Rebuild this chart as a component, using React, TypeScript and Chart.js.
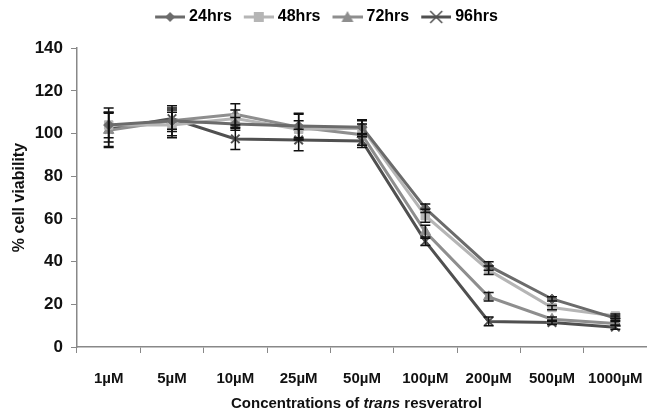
import React, { useEffect, useRef } from "react";
import { Chart, registerables } from "chart.js";

Chart.register(...registerables);

const categories = ["1µM", "5µM", "10µM", "25µM", "50µM", "100µM", "200µM", "500µM", "1000µM"];
const seriesNames = ["24hrs", "48hrs", "72hrs", "96hrs"];
const v24 = [104, 106, 104.5, 103.5, 103, 65, 38, 22.5, 13.5];
const v48 = [104, 104, 107, 102, 102.5, 61.5, 36, 18.5, 14.5];
const v72 = [101.5, 106, 109, 103, 99.5, 54, 23.5, 13, 11];
const v96 = [102, 107, 97.5, 97, 96.5, 49.5, 12, 11.5, 9.3];
const e24 = [6, 5, 3, 6, 3, 2, 2, 1, 1];
const e48 = [8, 6, 4, 4, 4, 3, 2, 1, 1];
const e72 = [8, 7, 5, 6, 5, 3, 2, 1, 1];
const e96 = [8, 5, 5, 5, 3, 2, 2, 1, 1];
const yTicks = [0, 20, 40, 60, 80, 100, 120, 140];

const colors = ["#6b6b6b", "#b5b5b5", "#8e8e8e", "#505050"];
const styles = ["rectRot", "rect", "triangle", "crossRot"];
const radii = [5, 6, 6, 6];
const FONT = "'Liberation Sans', Arial, sans-serif";

function legendIcon(color: string, style: string, r: number) {
  const c = document.createElement("canvas");
  c.width = 40;
  c.height = 14;
  const ctx = c.getContext("2d")!;
  ctx.strokeStyle = color;
  ctx.fillStyle = color;
  ctx.lineWidth = 3;
  ctx.beginPath();
  ctx.moveTo(10, 7);
  ctx.lineTo(40, 7);
  ctx.stroke();
  const cx = 25, cy = 7;
  ctx.lineWidth = 1.5;
  ctx.beginPath();
  if (style === "rectRot") {
    ctx.moveTo(cx, cy - r); ctx.lineTo(cx + r, cy); ctx.lineTo(cx, cy + r); ctx.lineTo(cx - r, cy); ctx.closePath(); ctx.fill();
  } else if (style === "rect") {
    ctx.fillRect(cx - r + 1, cy - r + 1, 2 * r - 2, 2 * r - 2);
  } else if (style === "triangle") {
    ctx.moveTo(cx, cy - r); ctx.lineTo(cx + r, cy + r - 1); ctx.lineTo(cx - r, cy + r - 1); ctx.closePath(); ctx.fill();
  } else {
    ctx.moveTo(cx - r, cy - r); ctx.lineTo(cx + r, cy + r); ctx.moveTo(cx + r, cy - r); ctx.lineTo(cx - r, cy + r); ctx.stroke();
  }
  return c;
}

const errorBars = {
  id: "errorBars",
  afterDatasetsDraw(chart: any) {
    const ctx = chart.ctx;
    const ys = chart.scales.y;
    const errs = [e24, e48, e72, e96];
    ctx.save();
    ctx.strokeStyle = "#111";
    ctx.lineWidth = 1.5;
    chart.data.datasets.forEach((ds: any, di: number) => {
      const meta = chart.getDatasetMeta(di);
      meta.data.forEach((pt: any, i: number) => {
        const v = ds.data[i];
        const e = errs[di][i];
        const x = pt.x;
        const t = ys.getPixelForValue(v + e);
        const b = ys.getPixelForValue(v - e);
        ctx.beginPath();
        ctx.moveTo(x, t); ctx.lineTo(x, b);
        ctx.moveTo(x - 5, t); ctx.lineTo(x + 5, t);
        ctx.moveTo(x - 5, b); ctx.lineTo(x + 5, b);
        ctx.stroke();
      });
    });
    ctx.restore();
  },
};

const xTitle = {
  id: "xTitle",
  afterDraw(chart: any) {
    const ctx = chart.ctx;
    const parts: [string, string][] = [
      ["Concentrations of ", "bold 15px " + FONT],
      ["trans", "italic bold 15px " + FONT],
      [" resveratrol", "bold 15px " + FONT],
    ];
    ctx.save();
    let x = 231;
    ctx.fillStyle = "#111";
    ctx.textBaseline = "middle";
    parts.forEach(([t, f]) => { ctx.font = f; ctx.fillText(t, x, 404); x += ctx.measureText(t).width; });
    ctx.restore();
  },
};

export default function App() {
  const ref = useRef<HTMLCanvasElement>(null);
  useEffect(() => {
    const vals = [v24, v48, v72, v96];
    const chart = new Chart(ref.current!, {
      type: "line",
      data: {
        labels: categories,
        datasets: seriesNames.map((n, i) => ({
          label: n,
          data: vals[i],
          borderColor: colors[i],
          backgroundColor: colors[i],
          borderWidth: 3,
          pointStyle: styles[i] as any,
          pointRadius: radii[i],
          pointBorderWidth: i === 3 ? 2 : 1,
          pointBorderColor: colors[i],
          pointBackgroundColor: colors[i],
          tension: 0,
        })),
      },
      options: {
        animation: false,
        responsive: false,
        layout: { autoPadding: false, padding: { left: 0, right: 0, top: 3, bottom: 0 } },
        plugins: {
          tooltip: { enabled: false },
          subtitle: {
            display: true,
            text: " ",
            weight: 500,
            font: { size: 1 },
            padding: { top: 0, bottom: 12 },
          } as any,
          legend: {
            position: "top",
            labels: {
              usePointStyle: true,
              pointStyleWidth: 32,
              font: { family: FONT, size: 16, weight: "bold" },
              color: "#222",
              padding: 6,
              generateLabels: () =>
                seriesNames.map((n, i) => ({
                  text: n,
                  pointStyle: legendIcon(colors[i], styles[i], radii[i]) as any,
                  fillStyle: colors[i],
                  strokeStyle: colors[i],
                  lineWidth: 0,
                  datasetIndex: i,
                  hidden: false,
                })),
            },
          },
        },
        scales: {
          x: {
            offset: true,
            afterFit: (s: any) => { s.height = 65; s.paddingLeft = 0; s.paddingRight = 0; },
            grid: { display: true, drawOnChartArea: false, drawTicks: true, tickLength: 6, color: "#888", offset: true },
            border: { color: "#888", width: 1.5 },
            ticks: { font: { family: FONT, size: 15, weight: "bold" }, color: "#111", maxRotation: 0, autoSkip: false, padding: 17 },
          },
          y: {
            min: 0,
            max: 140,
            afterFit: (s: any) => { s.width = 77; },
            afterBuildTicks: (s: any) => { s.ticks = yTicks.map((v) => ({ value: v })); },
            grid: { display: true, drawOnChartArea: false, drawTicks: true, tickLength: 6, color: "#888" },
            border: { color: "#888", width: 1.5 },
            ticks: { font: { family: FONT, size: 17, weight: "bold" }, color: "#111", padding: 8 },
            title: { display: true, text: "% cell viability", font: { family: FONT, size: 16, weight: "bold" }, color: "#111", padding: { top: 10, bottom: 0 } },
          },
        },
      },
      plugins: [errorBars, xTitle],
    });
    return () => chart.destroy();
  }, []);
  return (
    <div style={{ position: "fixed", left: 0, top: 0, width: 647, height: 412, background: "#fff" }}>
      <canvas ref={ref} width={647} height={412} style={{ width: 647, height: 412 }} />
    </div>
  );
}
